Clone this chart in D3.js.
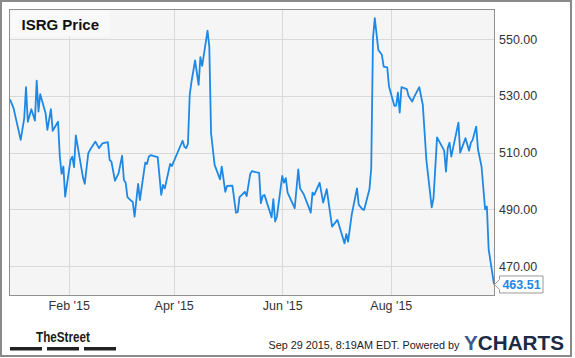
<!DOCTYPE html>
<html><head><meta charset="utf-8">
<script src="https://cdn.jsdelivr.net/npm/d3@7"></script>
<style>body{margin:0;background:#fff}svg{display:block}</style>
</head><body><svg id="c" width="575" height="358"></svg>
<script>
const dates = ["2014-12-30","2015-01-01","2015-01-05","2015-01-07","2015-01-08","2015-01-09","2015-01-11","2015-01-13","2015-01-14","2015-01-15","2015-01-16","2015-01-19","2015-01-20","2015-01-22","2015-01-23","2015-01-26","2015-01-27","2015-01-28","2015-01-29","2015-01-30",
"2015-02-02","2015-02-03","2015-02-04","2015-02-05","2015-02-09","2015-02-10","2015-02-12","2015-02-13","2015-02-16","2015-02-18","2015-02-20","2015-02-23","2015-02-24","2015-02-25","2015-02-27",
"2015-03-01","2015-03-03","2015-03-04","2015-03-05","2015-03-06","2015-03-08","2015-03-09","2015-03-10","2015-03-12","2015-03-13","2015-03-16","2015-03-17","2015-03-18","2015-03-19","2015-03-23","2015-03-25","2015-03-26","2015-03-27","2015-03-30","2015-03-31",
"2015-04-06","2015-04-07","2015-04-08","2015-04-09","2015-04-10","2015-04-11","2015-04-13","2015-04-15","2015-04-16","2015-04-17","2015-04-20","2015-04-21","2015-04-22","2015-04-24","2015-04-27","2015-04-28","2015-04-30",
"2015-05-01","2015-05-04","2015-05-06","2015-05-07","2015-05-08","2015-05-11","2015-05-12","2015-05-14","2015-05-15","2015-05-17","2015-05-19","2015-05-20","2015-05-21","2015-05-22","2015-05-26","2015-05-27","2015-05-28","2015-05-29",
"2015-06-01","2015-06-02","2015-06-03","2015-06-04","2015-06-08","2015-06-10","2015-06-11","2015-06-13","2015-06-16","2015-06-17","2015-06-18","2015-06-19","2015-06-22","2015-06-24","2015-06-26","2015-06-29",
"2015-07-02","2015-07-06","2015-07-07","2015-07-08","2015-07-10","2015-07-13","2015-07-14","2015-07-16","2015-07-17","2015-07-20","2015-07-21","2015-07-22","2015-07-23","2015-07-25","2015-07-27","2015-07-28","2015-07-30","2015-07-31",
"2015-08-03","2015-08-04","2015-08-05","2015-08-06","2015-08-07","2015-08-10","2015-08-11","2015-08-13","2015-08-14","2015-08-17","2015-08-19","2015-08-21","2015-08-24","2015-08-25","2015-08-27","2015-08-31",
"2015-09-01","2015-09-02","2015-09-03","2015-09-04","2015-09-08","2015-09-09","2015-09-12","2015-09-14","2015-09-15","2015-09-16","2015-09-18","2015-09-19","2015-09-21","2015-09-23","2015-09-24","2015-09-25","2015-09-28"];
const prices = [528.8,525.7,514.5,522.1,533.1,520.9,525.3,521.3,535.4,524.5,530.6,523.9,518.0,525.3,517.7,520.9,508.6,502.5,505.1,494.5,
507.4,508.6,504.9,516.1,501.3,499.0,509.8,511.0,513.9,511.6,513.3,513.7,507.4,506.8,500.1,
502.7,508.9,500.4,499.4,494.3,493.1,492.6,487.4,499.0,493.3,506.5,506.0,508.6,509.1,508.4,495.1,498.6,497.4,506.0,505.3,
514.2,512.1,511.6,513.1,530.4,535.0,542.5,533.9,543.7,540.6,553.0,547.4,516.8,505.7,500.6,505.1,496.2,
498.3,498.4,488.8,489.1,494.3,496.2,494.7,502.5,503.5,503.1,502.9,492.2,494.7,495.1,487.2,493.6,485.7,487.4,
501.8,499.4,501.0,495.9,490.4,504.1,497.4,495.4,490.6,488.8,495.9,495.1,499.4,492.4,497.1,483.9,
486.3,478.0,481.3,478.6,488.0,497.4,491.6,490.1,489.8,497.1,504.5,550.4,557.4,546.2,544.5,540.3,540.1,533.3,
526.5,526.6,531.2,524.1,533.1,532.4,530.0,528.0,529.5,533.1,526.8,507.4,490.7,493.9,515.4,510.7,
503.3,511.6,513.5,508.6,520.6,510.0,515.1,510.7,513.5,514.5,519.2,511.2,505.1,490.0,491.0,475.9,463.51];
const yTicks = [470, 490, 510, 530, 550];
const xTickDates = ["2015-02-01","2015-04-01","2015-06-01","2015-08-01"];
const xTickLabels = ["Feb '15","Apr '15","Jun '15","Aug '15"];
const titleText = "ISRG Price";
const lastValueText = "463.51";
const footerText = "Sep 29 2015, 8:19AM EDT. Powered by";

const parse = d3.timeParse("%Y-%m-%d");
const data = dates.map((d, i) => ({date: parse(d), value: prices[i]}));
const L = 10, R = 494, T = 10, B = 295;
const font = "'Liberation Sans', Arial, sans-serif";

const x = d3.scaleTime().domain([parse("2014-12-30"), parse("2015-09-28")]).range([L, R]);
const y = d3.scaleLinear().domain([459.8, 560.3]).range([B, T]);

const svg = d3.select("#c");
svg.append("rect").attr("x", 1).attr("y", 1).attr("width", 570).attr("height", 355)
  .attr("fill", "#fff").attr("stroke", "#8a8a8a").attr("stroke-width", 2);

svg.append("rect").attr("x", L).attr("y", T).attr("width", R - L).attr("height", B - T)
  .attr("fill", "#f5f5f5");

// gridlines
svg.append("g").selectAll("line").data(yTicks).join("line")
  .attr("x1", L).attr("x2", R).attr("y1", d => Math.round(y(d)) + 0.5).attr("y2", d => Math.round(y(d)) + 0.5)
  .attr("stroke", "#d9d9d9").attr("stroke-width", 1);
svg.append("g").selectAll("line").data(xTickDates).join("line")
  .attr("x1", d => Math.round(x(parse(d))) + 0.5).attr("x2", d => Math.round(x(parse(d))) + 0.5)
  .attr("y1", T).attr("y2", B)
  .attr("stroke", "#d9d9d9").attr("stroke-width", 1);

// title box
svg.append("rect").attr("x", L + 0.5).attr("y", T + 0.5).attr("width", 99).attr("height", 26)
  .attr("fill", "#f9f9f9");
svg.append("text").attr("x", 21.5).attr("y", 29.5).text(titleText)
  .attr("font-family", font).attr("font-weight", "bold").attr("font-size", 15).attr("fill", "#111");

// line
svg.append("path").datum(data)
  .attr("d", d3.line().x(d => x(d.date)).y(d => y(d.value)))
  .attr("fill", "none").attr("stroke", "#1e88e5").attr("stroke-width", 1.8)
  .attr("stroke-linejoin", "round");

// plot border
svg.append("rect").attr("x", L - 0.5).attr("y", T - 0.5).attr("width", R - L + 1).attr("height", B - T + 1)
  .attr("fill", "none").attr("stroke", "#8f8f8f").attr("stroke-width", 1);

// y axis
const yAxis = svg.append("g").attr("transform", `translate(${R},0)`)
  .call(d3.axisRight(y).tickValues(yTicks).tickFormat(d3.format(".2f")).tickSize(0).tickPadding(5));
yAxis.select(".domain").remove();
yAxis.selectAll("text").attr("font-family", font).attr("font-size", 12.5).attr("fill", "#333");

// x axis
const xAxis = svg.append("g").attr("transform", `translate(0,${B})`)
  .call(d3.axisBottom(x).tickValues(xTickDates.map(parse)).tickFormat((d, i) => xTickLabels[i]).tickSize(0).tickPadding(6));
xAxis.select(".domain").remove();
xAxis.selectAll("text").attr("font-family", font).attr("font-size", 12.5).attr("fill", "#333");

// last value label
const last = data[data.length - 1];
const yv = y(last.value), xv = x(last.date);
const bx = R + 5, bw = 44, bh = 17;
svg.append("path")
  .attr("d", `M${xv + 0.5},${yv} L${bx + 0.5},${yv - 5} L${bx + 0.5},${yv - bh / 2} L${bx + bw},${yv - bh / 2} L${bx + bw},${yv + bh / 2} L${bx + 0.5},${yv + bh / 2} L${bx + 0.5},${yv + 5} Z`)
  .attr("fill", "#fff").attr("stroke", "#9a9a9a").attr("stroke-width", 1);
svg.append("text").attr("x", bx + bw / 2 + 0.5).attr("y", yv + 4.5).attr("text-anchor", "middle")
  .text(lastValueText).attr("font-family", font).attr("font-weight", "bold").attr("font-size", 12.5).attr("fill", "#1e88e5");

// footer: TheStreet logo
svg.append("text").attr("x", 36).attr("y", 341.5).text("TheStreet")
  .attr("font-family", "'Liberation Sans Narrow', 'Liberation Sans', Arial, sans-serif")
  .attr("font-weight", "bold").attr("font-size", 14.5).attr("fill", "#1a1a1a")
  .attr("textLength", 54).attr("lengthAdjust", "spacingAndGlyphs");
[[10, 42], [47, 79], [84, 116]].forEach(([a, b]) => {
  svg.append("rect").attr("x", a).attr("y", 347).attr("width", b - a).attr("height", 3.5).attr("fill", "#222");
});

svg.append("text").attr("x", 459.5).attr("y", 349).attr("text-anchor", "end").text(footerText)
  .attr("font-family", font).attr("font-size", 11).attr("fill", "#222")
  .attr("textLength", 191).attr("lengthAdjust", "spacingAndGlyphs");

const yc = svg.append("text").attr("x", 464).attr("y", 349.5)
  .attr("font-family", font).attr("font-weight", "bold").attr("font-size", 19.5)
  .attr("textLength", 100).attr("lengthAdjust", "spacingAndGlyphs");
yc.append("tspan").text("Y").attr("fill", "#3b5b8f");
yc.append("tspan").text("CHARTS").attr("fill", "#1c2a44");
</script></body></html>
